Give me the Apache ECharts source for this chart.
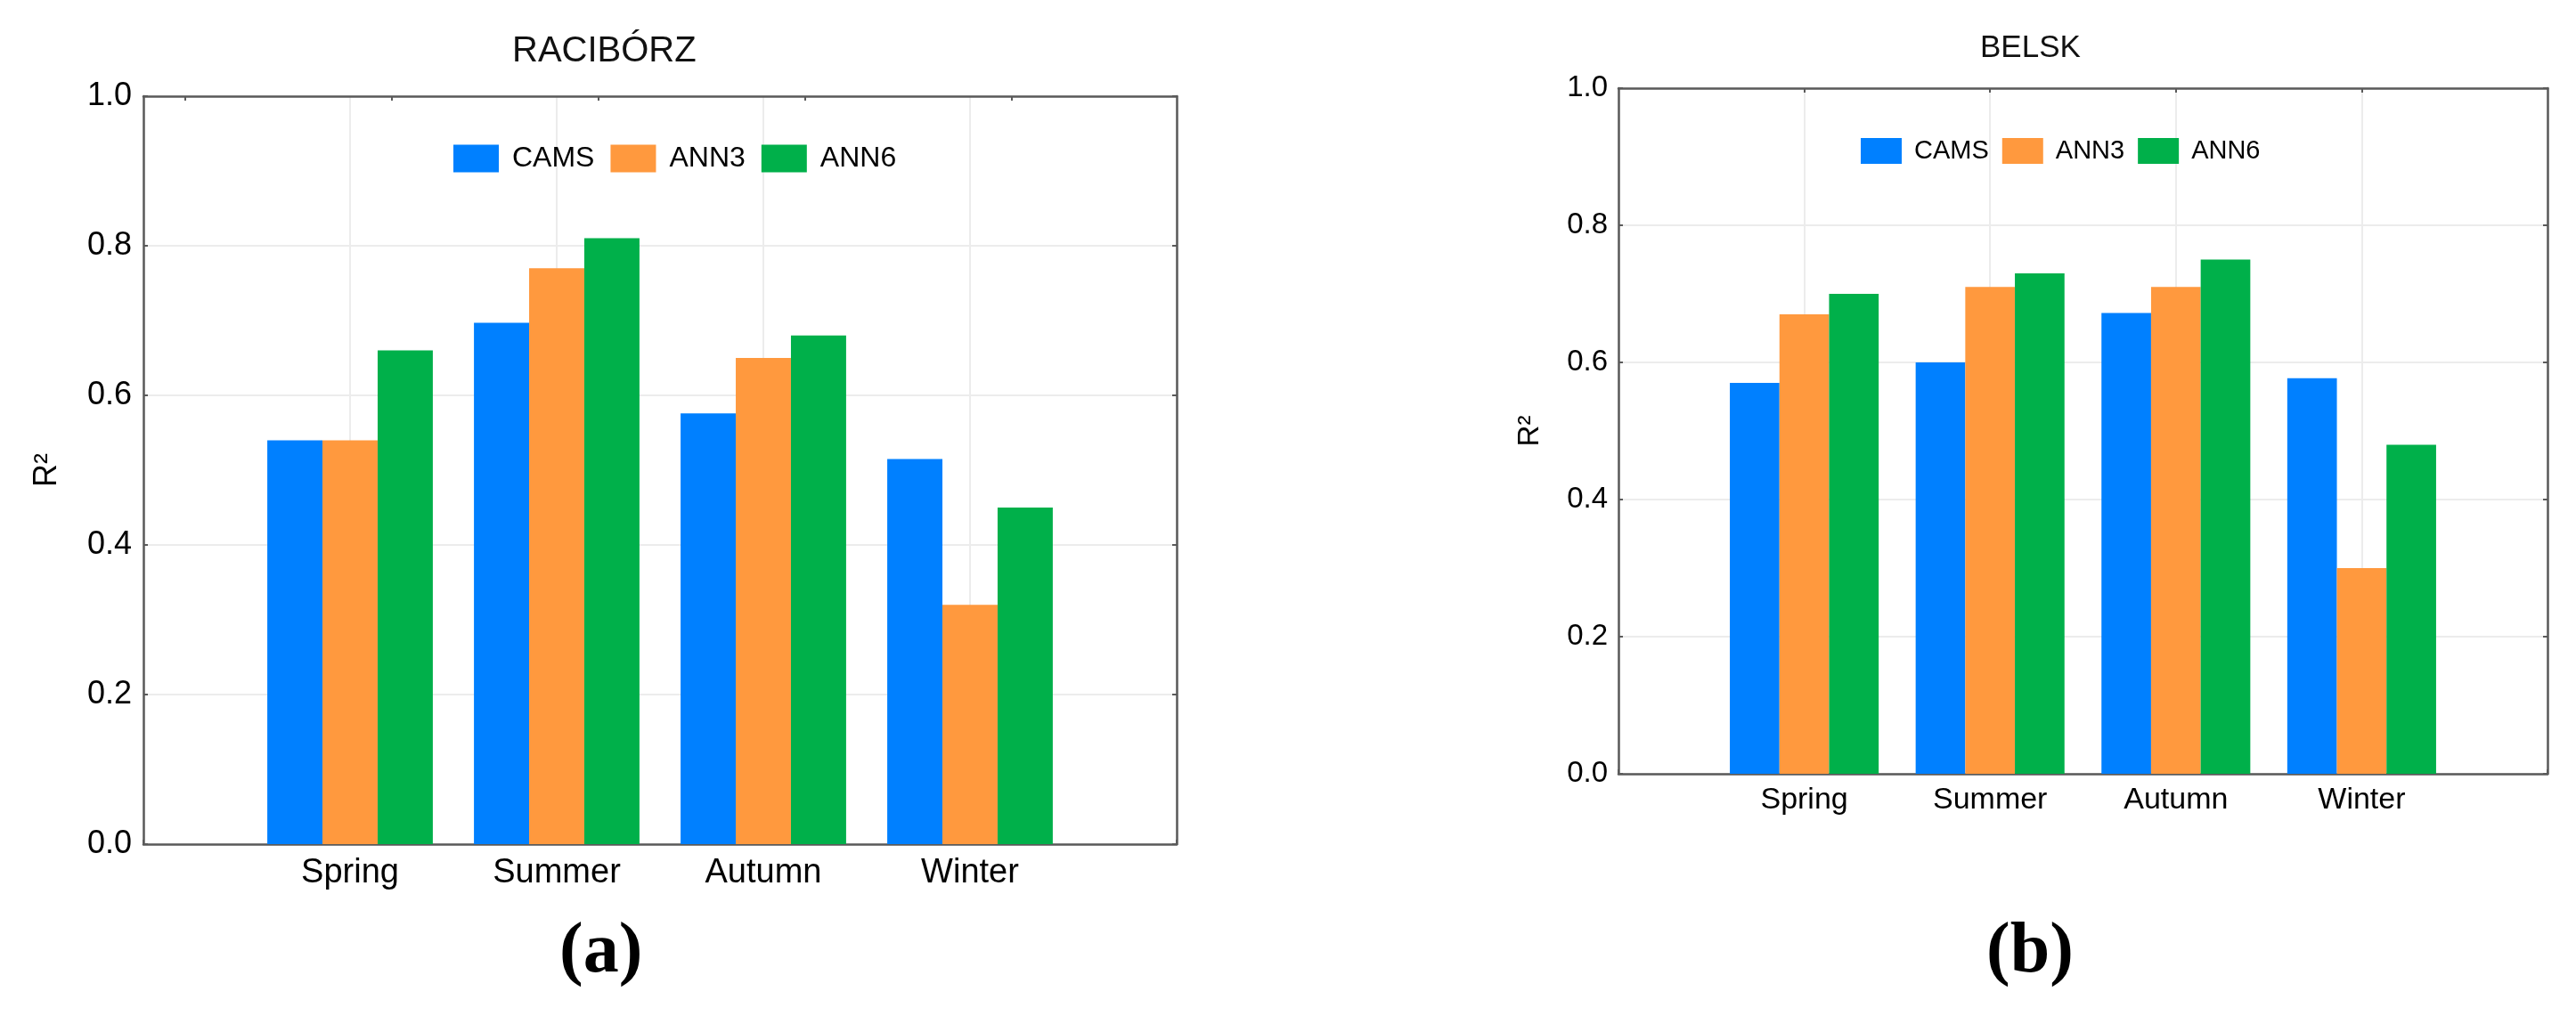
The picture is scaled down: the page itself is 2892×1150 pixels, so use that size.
<!DOCTYPE html>
<html>
<head>
<meta charset="utf-8">
<script src="https://cdn.jsdelivr.net/npm/echarts@6/dist/echarts.min.js"></script>
<style>
html,body{margin:0;padding:0;background:#fff;}
#c{width:2892px;height:1150px;}
</style>
</head>
<body>
<div id="c"></div>
<script>
const seasons = ['Spring', 'Summer', 'Autumn', 'Winter'];
const seriesNames = ['CAMS', 'ANN3', 'ANN6'];
const yTicks = [0.0, 0.2, 0.4, 0.6, 0.8, 1.0];

// RACIBÓRZ (a)
const racCAMS = [0.54, 0.697, 0.576, 0.515];
const racANN3 = [0.54, 0.77, 0.65, 0.32];
const racANN6 = [0.66, 0.81, 0.68, 0.45];

// BELSK (b)
const belCAMS = [0.57, 0.60, 0.672, 0.577];
const belANN3 = [0.67, 0.71, 0.71, 0.30];
const belANN6 = [0.70, 0.73, 0.75, 0.48];

const colors = ['#0080ff', '#ff993e', '#00b04a'];
const FONT = "'Liberation Sans', Arial, sans-serif";
const SERIF = "'Liberation Serif', 'Times New Roman', serif";
const frameColor = '#5a5a5a';
const gridColor = '#ececec';

const catData = [''].concat(seasons).concat([' ']);

function xBottom(gi, fs, margin) {
  return {
    type: 'category', gridIndex: gi, position: 'bottom', data: catData, boundaryGap: false,
    axisLine: {show: true, lineStyle: {color: frameColor, width: 2.5}},
    axisTick: {show: true, inside: true, length: 5, interval: 0, lineStyle: {color: frameColor, width: 2}},
    axisLabel: {show: true, interval: 0, margin: margin, color: '#000', fontFamily: FONT, fontSize: fs},
    splitLine: {show: true, interval: 0, lineStyle: {color: gridColor, width: 2}}
  };
}
function xTop(gi, ticks) {
  return {
    type: 'value', gridIndex: gi, position: 'top', min: 0, max: 5,
    axisLine: {show: true, onZero: false, lineStyle: {color: frameColor, width: 2.5}},
    axisTick: {show: true, inside: true, length: 5, customValues: ticks, lineStyle: {color: frameColor, width: 2}},
    axisLabel: {show: false},
    splitLine: {show: false}
  };
}
function yLeft(gi, fs, margin, nameGap) {
  return {
    type: 'value', gridIndex: gi, position: 'left', min: 0, max: 1, interval: 0.2,
    name: 'R²', nameLocation: 'middle', nameRotate: 90, nameGap: nameGap,
    nameTextStyle: {color: '#000', fontFamily: FONT, fontSize: fs},
    axisLine: {show: true, onZero: false, lineStyle: {color: frameColor, width: 2.5}},
    axisTick: {show: true, inside: true, length: 5, lineStyle: {color: frameColor, width: 2}},
    axisLabel: {show: true, margin: margin, color: '#000', fontFamily: FONT, fontSize: fs,
      customValues: yTicks, formatter: v => Number(v).toFixed(1)},
    splitLine: {show: true, lineStyle: {color: gridColor, width: 2}}
  };
}
function yRight(gi) {
  return {
    type: 'value', gridIndex: gi, position: 'right', min: 0, max: 1, interval: 0.2,
    axisLine: {show: true, onZero: false, lineStyle: {color: frameColor, width: 2.5}},
    axisTick: {show: true, inside: true, length: 5, lineStyle: {color: frameColor, width: 2}},
    axisLabel: {show: false},
    splitLine: {show: false}
  };
}
function bars(xi, yi, arrays) {
  return arrays.map((arr, k) => ({
    type: 'bar', name: seriesNames[k], xAxisIndex: xi, yAxisIndex: yi,
    data: seasons.map((s, i) => [s, arr[i]]),
    barWidth: '26.7%', barGap: '0%',
    itemStyle: {color: colors[k]},
    emphasis: {disabled: true},
    animation: false
  }));
}

const chart = echarts.init(document.getElementById('c'), null, {renderer: 'canvas'});
chart.setOption({
  animation: false,
  backgroundColor: '#fff',
  color: colors,
  title: [
    {text: 'RACIBÓRZ', left: 575, top: 38, padding: 0,
     textStyle: {color: '#111', fontFamily: FONT, fontSize: 40, fontWeight: 'normal'}},
    {text: 'BELSK', left: 2223, top: 37, padding: 0,
     textStyle: {color: '#111', fontFamily: FONT, fontSize: 35, fontWeight: 'normal'}},
    {text: '(a)', left: 628, top: 1030, padding: 0,
     textStyle: {color: '#000', fontFamily: SERIF, fontSize: 80, fontWeight: 'bold'}},
    {text: '(b)', left: 2230, top: 1030, padding: 0,
     textStyle: {color: '#000', fontFamily: SERIF, fontSize: 80, fontWeight: 'bold'}}
  ],
  legend: [
    {data: seriesNames, left: 509, top: 162, orient: 'horizontal', icon: 'rect',
     itemWidth: 51, itemHeight: 31, itemGap: 18, padding: 0, selectedMode: false,
     textStyle: {color: '#000', fontFamily: FONT, fontSize: 32, padding: [0, 0, 0, 10]}},
    {data: seriesNames, left: 2089, top: 155, orient: 'horizontal', icon: 'rect',
     itemWidth: 46, itemHeight: 29, itemGap: 15, padding: 0, selectedMode: false,
     textStyle: {color: '#000', fontFamily: FONT, fontSize: 29, padding: [0, 0, 0, 9]}}
  ],
  grid: [
    {left: 161, top: 108, width: 1160, height: 840, containLabel: false},
    {left: 1817, top: 99, width: 1043, height: 770, containLabel: false}
  ],
  xAxis: [
    xBottom(0, 38, 14),
    xTop(0, [0.2, 1.2, 2.2, 3.2, 4.2]),
    xBottom(1, 34, 13),
    xTop(1, [1, 2, 3, 4])
  ],
  yAxis: [
    yLeft(0, 36, 13, 90),
    yRight(0),
    yLeft(1, 33, 12, 83),
    yRight(1)
  ],
  series: [].concat(
    bars(0, 0, [racCAMS, racANN3, racANN6]),
    bars(2, 2, [belCAMS, belANN3, belANN6])
  )
});
</script>
</body>
</html>
